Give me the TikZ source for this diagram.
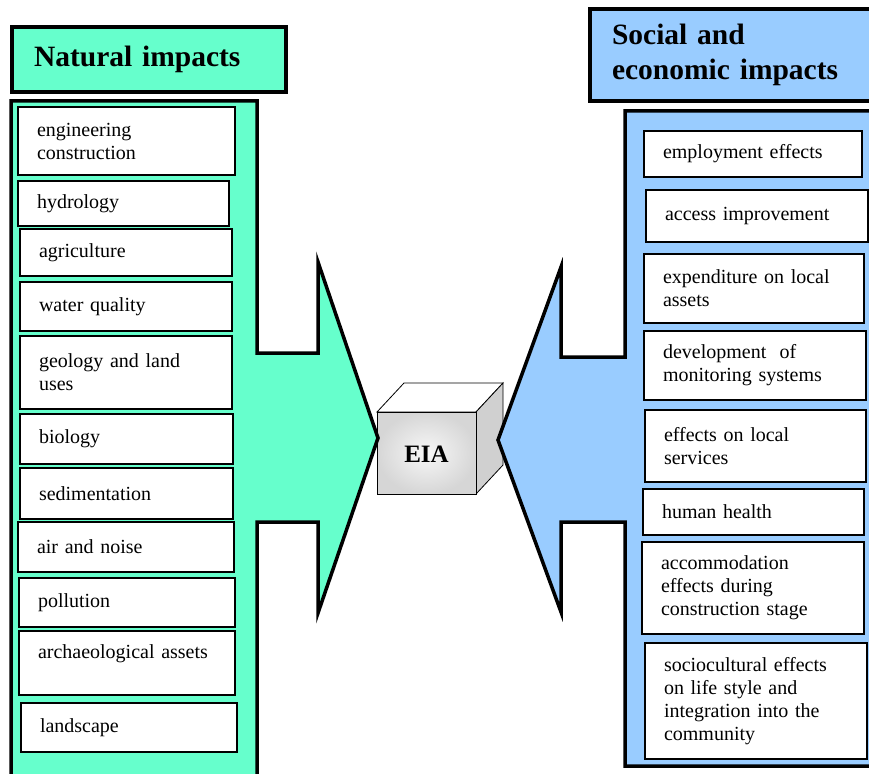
\documentclass[tikz,border=0pt]{standalone}
\usepackage{fontspec}
\setmainfont{Liberation Serif}
\definecolor{natgreen}{RGB}{102,255,204}
\definecolor{socblue}{RGB}{153,204,255}
\definecolor{cubeside}{RGB}{208,208,208}

\begin{document}
\begin{tikzpicture}[x=1pt, y=-1pt,
  panel/.style={draw=black, line width=3.5pt, line join=miter},
  headbox/.style={draw=black, line width=3.5pt, inner xsep=22pt, align=left,
    font=\bfseries\fontsize{29.5}{35}\selectfont},
  impact/.style={draw=black, line width=1.8pt, fill=white, inner xsep=19pt,
    align=left, font=\fontsize{20}{23}\selectfont}]

% ---- page frame (pixel units, y downwards) ----
\useasboundingbox (0,0) rectangle (869,773);
\clip (0,0) rectangle (869,773);

% ---- EIA cube (drawn first, arrow tips lie over it) ----
\fill[white, draw=black, thick] (377,412) -- (404,383) -- (503,383) -- (476,412) -- cycle;
\fill[cubeside, draw=black, thick] (476,412) -- (503,383) -- (503,465) -- (476,494) -- cycle;
\shade[inner color=gray!6, outer color=gray!32, draw=black, thick] (377,412) rectangle (476,494);
\node[font=\bfseries\fontsize{25}{30}\selectfont] (eia) at (426.5,454) {EIA};

% ---- Natural impacts arrow (left) ----
\draw[panel, fill=natgreen] (11,790) -- (11,101) -- (257,101) -- (257,353)
  -- (318,353) -- (318,262) -- (378,438) -- (318,613) -- (318,522)
  -- (257,522) -- (257,790) -- cycle;

% ---- Social and economic impacts arrow (right) ----
\draw[panel, fill=socblue] (890,111) -- (625,111) -- (625,357)
  -- (561,357) -- (561,267) -- (498,440) -- (561,612) -- (561,522)
  -- (625,522) -- (625,766) -- (890,766) -- cycle;

% ---- headings ----
\node[headbox, fill=natgreen, minimum width=274pt, minimum height=65pt,
  text width=230pt] (nathead) at (149,59.5) {Natural impacts};
\node[headbox, fill=socblue, minimum width=290pt, minimum height=92pt,
  text width=246pt, inner xsep=21pt] (sochead) at (735,55) {Social and\\economic impacts};

% ---- natural impact items ----
\foreach \n/\xa/\ya/\xb/\yb/\txt in {
    nat1/18/107/235/175/{engineering\\construction},
    nat2/18/181/229/226/{hydrology},
    nat3/20/229/232/276/{agriculture},
    nat4/20/282/232/331/{water quality},
    nat5/20/336/232/409/{geology and land\\uses},
    nat6/20/414/233/464/{biology},
    nat7/20/468/233/519/{sedimentation},
    nat8/18/522/234/572/{air and noise},
    nat9/19/578/235/627/{pollution},
    nat10/19/631/235/695/{archaeological assets\\\mbox{}},
    nat11/21/703/237/752/{landscape}} {
  \pgfmathsetmacro\bw{\xb-\xa}
  \pgfmathsetmacro\bh{\yb-\ya}
  \pgfmathsetmacro\tw{\bw-38}
  \node[impact, minimum width=\bw pt, minimum height=\bh pt, text width=\tw pt]
    (\n) at ({(\xa+\xb)/2},{(\ya+\yb)/2}) {\txt};
}

% ---- social and economic impact items ----
\foreach \n/\xa/\ya/\xb/\yb/\txt in {
    soc1/644/131/862/177/{employment effects},
    soc2/646/190/868/242/{access improvement},
    soc3/644/254/864/323/{expenditure on local\\assets},
    soc4/644/331/866/400/{development\ \ of\\monitoring systems},
    soc5/645/410/866/482/{effects on local\\services},
    soc6/643/489/864/535/{human health},
    soc7/642/542/864/634/{accommodation\\effects during\\construction stage},
    soc8/645/643/867/759/{sociocultural effects\\on life style and\\integration into the\\community}} {
  \pgfmathsetmacro\bw{\xb-\xa}
  \pgfmathsetmacro\bh{\yb-\ya}
  \pgfmathsetmacro\tw{\bw-38}
  \node[impact, minimum width=\bw pt, minimum height=\bh pt, text width=\tw pt]
    (\n) at ({(\xa+\xb)/2},{(\ya+\yb)/2}) {\txt};
}

\end{tikzpicture}
\end{document}
